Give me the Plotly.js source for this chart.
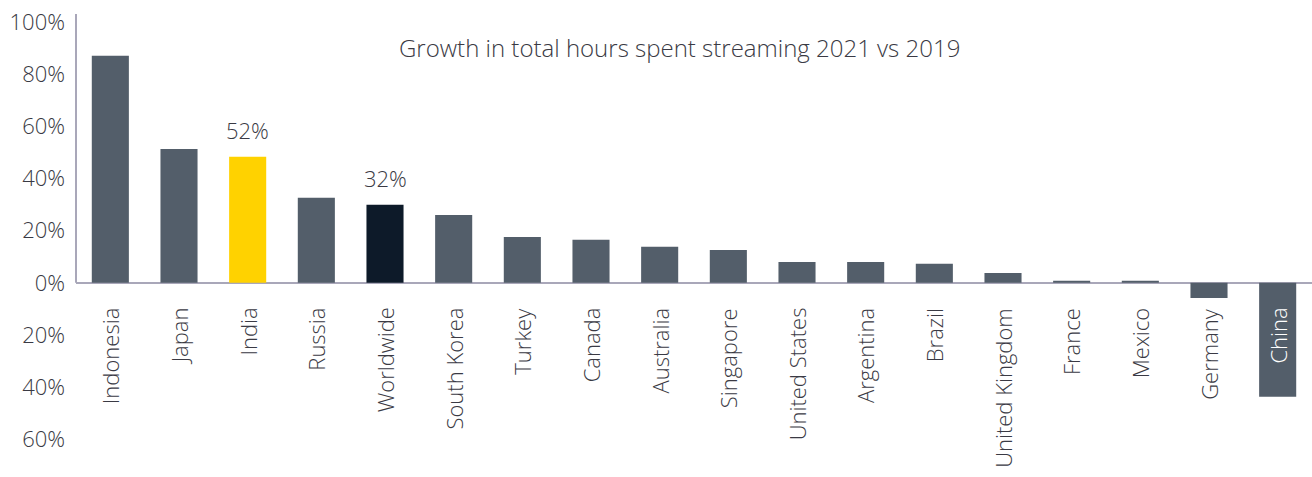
<!DOCTYPE html>
<html>
<head>
<meta charset="utf-8">
<script src="https://cdn.plot.ly/plotly-3.0.1.min.js"></script>
<style>html,body{margin:0;padding:0;background:#fff;}#chart{width:1312px;height:477px;}</style>
</head>
<body>
<div id="chart"></div>
<script>
const categories = ["Indonesia","Japan","India","Russia","Worldwide","South Korea","Turkey","Canada","Australia","Singapore","United States","Argentina","Brazil","United Kingdom","France","Mexico","Germany","China"];
const growth = [87, 51.3, 48.3, 32.6, 29.9, 26, 17.6, 16.5, 13.8, 12.6, 8, 8, 7.3, 3.8, 0.8, 0.8, -5.8, -43.6];
const calloutCategories = ["India","Worldwide"];
const calloutLabels = ["52%","32%"];
const yTickVals = [100,80,60,40,20,0,-20,-40,-60];
const yTickText = ["100%","80%","60%","40%","20%","0%","20%","40%","60%"];
const chartTitle = "Growth in total hours spent streaming 2021 vs 2019";

const GREY = "#535e6a", YELLOW = "#ffd200", NAVY = "#0d1a29", AXIS = "#a9a7b9", TXT = "#3a3a44";
const FONT = "Open Sans";
const colors = categories.map(c => c === "India" ? YELLOW : (c === "Worldwide" ? NAVY : GREY));

const annotations = [];
categories.forEach((c, i) => {
  annotations.push({
    x: c, y: 0, xref: "x", yref: "y", text: c, showarrow: false,
    textangle: -90, xanchor: "center", yanchor: "top", yshift: -23,
    font: {family: FONT, size: 22, weight: 300, color: c === "China" ? "#ffffff" : TXT}
  });
});
calloutCategories.forEach((c, k) => {
  const i = categories.indexOf(c);
  annotations.push({
    x: c, y: growth[i], xref: "x", yref: "y", text: calloutLabels[k], showarrow: false,
    xanchor: "center", yanchor: "bottom", yshift: 10,
    font: {family: FONT, size: 22, weight: 300, color: TXT}
  });
});
annotations.push({
  x: 0.488, y: 90, xref: "paper", yref: "y", text: chartTitle, showarrow: false,
  xanchor: "center", yanchor: "middle", font: {family: FONT, size: 24, weight: 300, color: TXT}
});

const trace = {
  type: "bar", x: categories, y: growth,
  marker: {color: colors, line: {width: 0}},
  hoverinfo: "skip"
};

const layout = {
  width: 1312, height: 477,
  margin: {l: 76, r: 0, t: 14, b: 25, pad: 0},
  paper_bgcolor: "#ffffff", plot_bgcolor: "#ffffff",
  bargap: 0.46,
  showlegend: false,
  xaxis: {showticklabels: false, showgrid: false, zeroline: false, showline: false, ticks: "", fixedrange: true},
  yaxis: {
    range: [-64.8, 103], tickvals: yTickVals, ticktext: yTickText,
    showgrid: false, zeroline: true, zerolinecolor: AXIS, zerolinewidth: 2,
    showline: false, ticks: "", ticklabelstandoff: 10,
    tickfont: {family: FONT, size: 22, weight: 300, color: TXT}, fixedrange: true
  },
  shapes: [{type: "line", xref: "paper", yref: "y", x0: 0, x1: 0, y0: 0, y1: 103, line: {color: AXIS, width: 2}}],
  annotations: annotations
};

Plotly.newPlot("chart", [trace], layout, {staticPlot: true, displayModeBar: false});
</script>
</body>
</html>
